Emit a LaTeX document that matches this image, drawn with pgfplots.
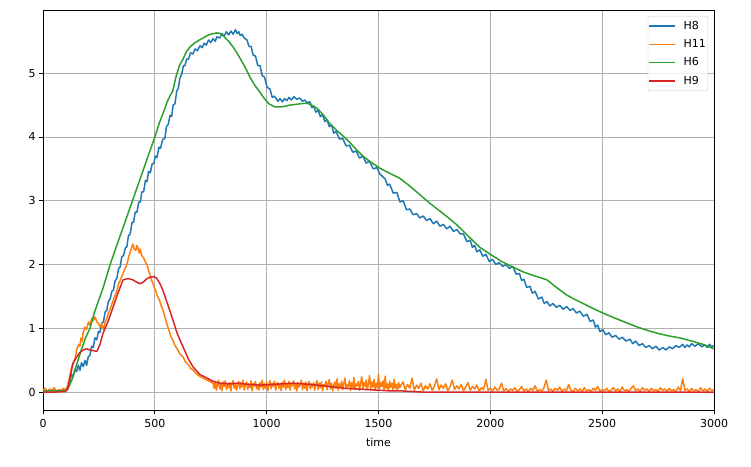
\documentclass[border=0pt]{standalone}
\usepackage{fontspec}
\setmainfont{DejaVu Sans}
\usepackage{pgfplots}
\pgfplotsset{compat=1.18}

\definecolor{cblue}{HTML}{1F77B4}
\definecolor{corange}{HTML}{FF7F0E}
\definecolor{cgreen}{HTML}{2CA02C}
\definecolor{cred}{HTML}{D62728}

\begin{document}
\fontsize{11pt}{13pt}\selectfont
\begin{tikzpicture}
\begin{axis}[
    name=ax,
    scale only axis,
    width=671pt, height=400pt,
    xmin=0, xmax=3000,
    ymin=-0.28, ymax=5.99,
    xtick={0,500,...,3000},
    ytick={0,1,2,3,4,5},
    /pgf/number format/.cd, 1000 sep={}, assume math mode=true,
    /pgfplots/.cd,
    xlabel={time},
    xlabel style={yshift=-3pt},
    xticklabel style={yshift=-2pt},
    tick align=outside,
    xtick pos=bottom, ytick pos=left,
    major tick length=3.5pt,
    tick style={black, line width=0.8pt},
    axis line style={black, line width=0.8pt},
    grid=major,
    major grid style={color=black!31, line width=0.8pt},
    tick label style={font=\fontsize{11pt}{13pt}\selectfont},
    label style={font=\fontsize{11pt}{13pt}\selectfont},
    legend cell align=left,
    legend style={at={(0.991,0.985)}, anchor=north east,
        draw=black!20, rounded corners=2pt, fill=white, fill opacity=0.8, text opacity=1,
        font=\fontsize{11pt}{13pt}\selectfont, row sep=4.5pt, inner xsep=0pt, inner ysep=3pt,
        /tikz/every odd column/.append style={column sep=6pt}},
    legend image code/.code={\draw[#1, line width=1.5pt] (0pt,0pt) -- (26pt,0pt);},
    every axis plot/.append style={line width=1.5pt, line join=round},
]
% H8
\addplot[color=cblue] coordinates {
(0,0.03)(20,0.02)(40,0.04)(60,0.02)(80,0.03)(100,0.04)(110,0.08)(120,0.18)(128,0.28)(135,0.24)(142,0.36)(150,0.32)(158,0.42)(165,0.34)(172,0.46)(180,0.40)(188,0.50)(195,0.42)(202,0.55)(210,0.58)(217,0.72)(225,0.70)(232,0.85)(240,0.82)(248,0.95)(255,0.94)(262,1.08)(270,1.10)(278,1.26)(285,1.28)(292,1.42)(300,1.46)(308,1.58)(315,1.60)(322,1.74)(330,1.78)(338,1.94)(345,1.96)(352,2.12)(360,2.14)(368,2.26)(375,2.28)(382,2.45)(390,2.48)(398,2.66)(405,2.66)(412,2.82)(420,2.82)(428,2.98)(435,2.98)(442,3.14)(450,3.14)(458,3.32)(465,3.30)(472,3.46)(480,3.44)(488,3.58)(495,3.58)(502,3.70)(510,3.68)(518,3.84)(525,3.82)(535,3.96)(545,3.98)(552,4.16)(560,4.20)(568,4.34)(575,4.32)(582,4.50)(590,4.52)(598,4.72)(605,4.76)(612,4.92)(620,4.98)(628,5.12)(635,5.12)(642,5.22)(650,5.22)(660,5.32)(670,5.30)(680,5.38)(690,5.35)(702,5.43)(712,5.40)(720,5.47)(730,5.44)(740,5.52)(750,5.48)(760,5.54)(770,5.50)(778,5.57)(790,5.55)(800,5.62)(810,5.58)(820,5.65)(830,5.60)(840,5.66)(850,5.61)(860,5.68)(868,5.62)(875,5.65)(882,5.59)(890,5.61)(900,5.55)
(912,5.52)(921,5.42)(930,5.42)(940,5.28)(950,5.27)(960,5.12)(970,5.12)(980,4.96)(990,4.94)(1002,4.78)(1015,4.75)(1025,4.62)(1035,4.64)(1050,4.56)(1060,4.60)(1070,4.55)(1080,4.60)(1090,4.57)(1100,4.62)(1110,4.58)(1122,4.63)(1135,4.59)(1148,4.61)(1160,4.56)(1170,4.58)(1180,4.54)(1194,4.55)(1202,4.46)(1210,4.48)(1220,4.39)(1230,4.42)(1240,4.32)(1250,4.35)(1260,4.24)(1270,4.27)(1280,4.16)(1290,4.19)(1300,4.06)(1310,4.09)(1325,3.97)(1341,3.97)(1355,3.86)(1370,3.87)(1385,3.76)(1400,3.78)(1415,3.67)(1430,3.70)(1445,3.59)(1460,3.62)(1476,3.50)(1493,3.52)(1506,3.42)(1518,3.38)(1530,3.34)(1540,3.24)(1550,3.26)(1566,3.12)(1582,3.13)(1596,2.98)(1610,3.00)(1625,2.86)(1640,2.87)(1655,2.78)(1670,2.80)(1685,2.73)(1700,2.76)(1715,2.69)(1730,2.72)(1745,2.64)(1760,2.68)(1775,2.60)(1790,2.63)(1805,2.56)(1820,2.60)(1835,2.52)(1851,2.55)(1865,2.48)(1880,2.48)(1895,2.36)(1910,2.38)(1920,2.27)(1930,2.30)(1940,2.20)(1953,2.23)(1966,2.13)(1980,2.16)(1995,2.05)(2010,2.08)(2025,2.00)(2040,2.03)(2055,1.97)(2070,2.00)(2085,1.94)(2101,1.97)(2115,1.85)(2130,1.86)(2140,1.75)(2150,1.77)(2163,1.64)(2177,1.66)(2188,1.55)(2200,1.58)(2215,1.46)(2230,1.49)(2241,1.39)(2253,1.42)(2266,1.35)(2280,1.39)(2295,1.33)(2310,1.36)(2325,1.30)(2342,1.34)(2356,1.28)(2370,1.31)(2385,1.24)(2400,1.27)(2416,1.19)(2432,1.22)(2446,1.11)(2460,1.13)(2470,1.02)(2480,1.05)(2490,0.95)(2503,0.98)(2516,0.90)(2530,0.93)(2545,0.86)(2560,0.89)(2575,0.83)(2590,0.86)(2607,0.80)(2624,0.83)(2637,0.76)(2650,0.80)(2665,0.73)(2680,0.76)(2695,0.70)(2710,0.73)(2725,0.68)(2740,0.72)(2755,0.66)(2772,0.70)(2785,0.66)(2800,0.71)(2815,0.68)(2830,0.73)(2845,0.70)(2860,0.75)(2870,0.70)(2879,0.74)(2890,0.71)(2900,0.76)(2915,0.72)(2930,0.76)(2945,0.71)(2960,0.74)(2970,0.70)(2980,0.75)(2990,0.71)(3000,0.73)
};
\addlegendentry{H8}
% H11
\addplot[color=corange] coordinates {
(0,0.03)(10,0.06)(20,0.01)(30,0.05)(40,0.02)(50,0.07)(60,0.01)(70,0.04)(80,0.02)(90,0.06)(100,0.03)(110,0.10)(120,0.25)(127,0.38)(134,0.45)(140,0.50)(145,0.55)(152,0.68)(160,0.75)(165,0.72)(170,0.85)(175,0.80)(179,0.92)(187,1.02)(195,0.98)(203,1.10)(210,1.05)(218,1.16)(225,1.12)(233,1.18)(241,1.10)(248,1.08)(255,1.02)(262,1.07)(270,0.98)(278,1.10)(285,1.15)(293,1.25)(300,1.30)(308,1.38)(315,1.45)(323,1.52)(331,1.60)(338,1.70)(345,1.75)(353,1.82)(360,1.88)(368,1.95)(375,2.00)(383,2.12)(390,2.20)(396,2.26)(402,2.32)(408,2.24)(415,2.22)(420,2.30)(425,2.26)(430,2.18)(434,2.24)(442,2.14)(450,2.10)(458,2.04)(465,2.00)(472,1.90)(478,1.85)(485,1.76)(492,1.70)(498,1.63)(505,1.58)(512,1.50)(520,1.45)(528,1.36)(536,1.29)(543,1.20)(550,1.12)(558,1.02)(565,0.95)(573,0.86)(581,0.81)(590,0.73)(600,0.68)(612,0.60)(626,0.55)(638,0.47)(650,0.43)(660,0.37)(670,0.35)(685,0.29)(700,0.25)(715,0.22)(733,0.19)(745,0.17)
(760,0.14)(765,0.06)(770,0.17)(775,0.03)(780,0.12)(785,0.19)(790,0.05)(795,0.13)(800,0.02)(805,0.16)(810,0.09)(815,0.18)(820,0.04)(825,0.12)(830,0.07)(835,0.15)(840,0.02)(845,0.13)(850,0.18)(855,0.06)(860,0.14)(865,0.03)(870,0.11)(875,0.17)(880,0.05)(885,0.15)(890,0.08)(895,0.19)(900,0.03)(905,0.12)(910,0.16)(915,0.04)(920,0.13)(925,0.07)(930,0.18)(935,0.02)(940,0.14)(945,0.10)(950,0.17)(955,0.05)(960,0.12)(965,0.03)(970,0.15)(975,0.08)(980,0.19)(985,0.04)(990,0.13)(995,0.06)(1000,0.16)(1005,0.02)(1010,0.11)(1015,0.18)(1020,0.05)(1025,0.14)(1030,0.09)(1035,0.17)(1040,0.03)(1045,0.12)(1050,0.15)(1055,0.06)(1060,0.13)(1065,0.02)(1070,0.16)(1075,0.08)(1080,0.19)(1085,0.04)(1090,0.12)(1095,0.07)(1100,0.17)(1105,0.03)(1110,0.14)(1115,0.10)(1120,0.18)(1125,0.05)(1130,0.13)(1135,0.02)(1140,0.15)(1145,0.08)(1150,0.12)(1155,0.19)(1160,0.04)(1165,0.14)(1170,0.06)(1175,0.16)(1180,0.02)(1185,0.11)(1190,0.17)(1195,0.05)(1200,0.13)(1205,0.08)(1210,0.15)(1215,0.03)(1220,0.12)(1225,0.18)(1230,0.04)(1235,0.14)(1240,0.07)(1245,0.16)(1250,0.02)(1255,0.12)(1260,0.09)(1265,0.17)(1270,0.04)(1275,0.13)(1280,0.20)(1285,0.05)(1290,0.14)(1295,0.02)(1300,0.11)(1305,0.16)(1310,0.06)(1315,0.21)(1320,0.03)(1325,0.13)(1330,0.08)(1335,0.17)(1340,0.04)(1345,0.14)(1350,0.22)(1355,0.05)(1360,0.12)(1365,0.09)(1370,0.18)(1375,0.03)(1380,0.15)(1385,0.07)(1390,0.23)(1395,0.04)(1400,0.13)(1405,0.10)(1410,0.17)(1415,0.03)(1420,0.14)(1425,0.24)(1430,0.06)(1435,0.15)(1440,0.09)(1445,0.19)(1450,0.04)(1455,0.13)(1460,0.26)(1465,0.05)(1470,0.16)(1475,0.08)(1480,0.20)(1485,0.03)(1490,0.14)(1495,0.07)(1500,0.28)(1505,0.05)(1510,0.15)(1515,0.09)(1520,0.18)(1525,0.04)(1530,0.25)(1535,0.06)(1540,0.13)(1545,0.03)(1550,0.17)(1555,0.08)(1560,0.14)(1565,0.04)(1570,0.20)(1575,0.06)(1580,0.12)(1585,0.03)(1590,0.15)(1595,0.07)(1600,0.11)
(1610,0.16)(1620,0.04)(1630,0.12)(1640,0.06)(1650,0.22)(1660,0.03)(1670,0.11)(1680,0.06)(1690,0.14)(1700,0.02)(1710,0.10)(1720,0.05)(1730,0.13)(1740,0.03)(1750,0.09)(1760,0.21)(1770,0.04)(1780,0.11)(1790,0.06)(1800,0.13)(1810,0.02)(1820,0.09)(1830,0.19)(1840,0.04)(1850,0.10)(1860,0.05)(1870,0.12)(1880,0.02)(1890,0.08)(1900,0.15)(1910,0.03)(1920,0.09)(1930,0.05)(1940,0.11)(1950,0.02)(1960,0.07)(1970,0.04)(1980,0.20)(1990,0.03)(2000,0.06)(2010,0.02)(2020,0.08)(2030,0.03)(2040,0.05)(2050,0.14)(2060,0.02)(2070,0.06)(2080,0.01)(2090,0.05)(2100,0.03)(2110,0.07)(2120,0.01)(2130,0.04)(2140,0.09)(2150,0.02)(2160,0.05)(2170,0.01)(2180,0.06)(2190,0.03)(2200,0.10)(2210,0.01)(2220,0.04)(2230,0.02)(2240,0.07)(2250,0.19)(2260,0.02)(2270,0.05)(2280,0.01)(2290,0.06)(2300,0.03)(2310,0.08)(2320,0.01)(2330,0.05)(2340,0.02)(2350,0.12)(2360,0.03)(2370,0.01)(2380,0.06)(2390,0.02)(2400,0.05)(2410,0.01)(2420,0.07)(2430,0.02)(2440,0.04)(2450,0.01)(2460,0.06)(2470,0.03)(2480,0.09)(2490,0.01)(2500,0.04)(2510,0.02)(2520,0.06)(2530,0.01)(2540,0.03)(2550,0.07)(2560,0.02)(2570,0.05)(2580,0.01)(2590,0.08)(2600,0.02)(2610,0.04)(2620,0.01)(2630,0.06)(2640,0.10)(2650,0.02)(2660,0.05)(2670,0.01)(2680,0.07)(2690,0.03)(2700,0.05)(2710,0.01)(2720,0.06)(2730,0.02)(2740,0.04)(2750,0.01)(2760,0.07)(2770,0.03)(2780,0.05)(2790,0.01)(2800,0.06)(2810,0.02)(2820,0.04)(2830,0.01)(2840,0.08)(2850,0.02)(2860,0.21)(2870,0.03)(2880,0.05)(2890,0.01)(2900,0.06)(2910,0.02)(2920,0.04)(2930,0.01)(2940,0.07)(2950,0.02)(2960,0.05)(2970,0.01)(2980,0.06)(2990,0.03)(3000,0.04)
};
\addlegendentry{H11}
% H6
\addplot[color=cgreen] coordinates {
(0,0.02)(50,0.02)(100,0.02)(110,0.04)(130,0.20)(152,0.45)(170,0.65)(190,0.85)(210,1.00)(230,1.25)(250,1.45)(270,1.65)(290,1.88)(300,2.00)(320,2.20)(340,2.40)(360,2.60)(380,2.80)(400,3.00)(420,3.20)(440,3.40)(460,3.60)(480,3.80)(500,4.00)(520,4.22)(540,4.40)(555,4.55)(570,4.66)(580,4.72)(595,4.95)(610,5.12)(626,5.22)(640,5.33)(657,5.41)(680,5.48)(700,5.52)(720,5.56)(740,5.60)(760,5.62)(778,5.63)(795,5.62)(810,5.57)(830,5.50)(850,5.41)(870,5.30)(890,5.18)(910,5.05)(925,4.94)(945,4.82)(970,4.70)(990,4.60)(1010,4.52)(1037,4.47)(1060,4.47)(1080,4.48)(1104,4.50)(1130,4.51)(1150,4.52)(1180,4.53)(1200,4.50)(1225,4.45)(1250,4.36)(1280,4.22)(1314,4.10)(1340,4.02)(1370,3.92)(1404,3.79)(1430,3.70)(1460,3.62)(1506,3.51)(1550,3.43)(1596,3.35)(1640,3.23)(1690,3.08)(1730,2.96)(1770,2.85)(1810,2.74)(1851,2.62)(1900,2.45)(1953,2.27)(2000,2.16)(2050,2.05)(2101,1.96)(2150,1.88)(2200,1.82)(2253,1.76)(2300,1.63)(2342,1.52)(2380,1.45)(2420,1.38)(2460,1.31)(2503,1.24)(2550,1.17)(2600,1.10)(2650,1.03)(2700,0.97)(2750,0.92)(2800,0.88)(2848,0.85)(2900,0.80)(2950,0.75)(3000,0.68)
};
\addlegendentry{H6}
% H9
\addplot[color=cred] coordinates {
(0,0.00)(50,0.00)(100,0.01)(110,0.05)(125,0.30)(134,0.45)(150,0.55)(165,0.62)(179,0.66)(195,0.68)(210,0.66)(225,0.65)(241,0.64)(255,0.75)(268,0.92)(290,1.10)(313,1.33)(335,1.55)(358,1.76)(380,1.78)(402,1.76)(420,1.72)(434,1.70)(450,1.73)(465,1.78)(478,1.80)(495,1.81)(507,1.79)(520,1.72)(536,1.60)(550,1.45)(565,1.30)(581,1.13)(600,0.92)(626,0.71)(650,0.52)(670,0.40)(700,0.28)(733,0.22)(760,0.17)(791,0.14)(830,0.13)(870,0.14)(920,0.12)(970,0.11)(1020,0.12)(1070,0.13)(1120,0.14)(1160,0.13)(1200,0.12)(1250,0.10)(1300,0.08)(1350,0.06)(1400,0.05)(1450,0.04)(1500,0.03)(1550,0.02)(1600,0.02)(1650,0.01)(1700,0.00)(3000,0.00)
};
\addlegendentry{H9}
\end{axis}
\pgfresetboundingbox
\path ([xshift=-43pt,yshift=-56pt]ax.south west) rectangle ([xshift=37pt,yshift=10pt]ax.north east);
\end{tikzpicture}
\end{document}
